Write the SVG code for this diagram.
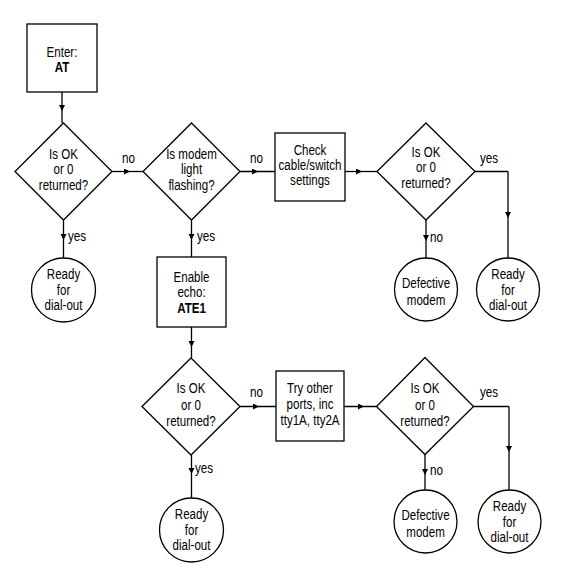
<svg xmlns="http://www.w3.org/2000/svg" width="561" height="577" viewBox="0 0 561 577">
<style>
.s{fill:#fff;stroke:#000;stroke-width:1.3}
.c{fill:none;stroke:#000;stroke-width:1.3;marker-mid:url(#ah)}
.p{fill:none;stroke:#000;stroke-width:1.3}
text{font-family:"Liberation Sans",Arial,sans-serif;font-size:15px;fill:#000;text-anchor:middle}
.b{font-weight:bold}
.l{text-anchor:start}
</style>
<defs>
<marker id="ah" markerUnits="userSpaceOnUse" markerWidth="7" markerHeight="7" refX="6" refY="3" orient="auto">
<path d="M0,0 L6,3 L0,6 z" fill="#000"/>
</marker>
</defs>
<rect width="561" height="577" fill="#fff"/>
<g id="connectors">
<path class="c" d="M62,92 L62,111 L62,123"/>
<path class="c" d="M63.5,220 L63.5,240 L63.5,258"/>
<path class="c" d="M112,171.5 L130,171.5 L143,171.5"/>
<path class="c" d="M191.5,220 L191.5,240 L191.5,257"/>
<path class="c" d="M240,171.5 L258,171.5 L275,171.5"/>
<path class="c" d="M345,171.5 L362,171.5 L377,171.5"/>
<path class="c" d="M426,220 L426,241 L426,258"/>
<path class="p" d="M475,171.5 L508,171.5"/>
<path class="c" d="M508,171.5 L508,218 L508,258"/>
<path class="c" d="M191.5,327 L191.5,347 L191.5,358"/>
<path class="c" d="M240,406.5 L259,406.5 L276,406.5"/>
<path class="c" d="M344,406.5 L364,406.5 L376.5,406.5"/>
<path class="c" d="M425,454.5 L425,475 L425,490"/>
<path class="p" d="M473.5,406.5 L509,406.5"/>
<path class="c" d="M509,406.5 L509,452 L509,490"/>
<path class="c" d="M191.5,455 L191.5,474 L191.5,498"/>
</g>
<g id="labels">
<text class="l" transform="translate(122 163) scale(0.78 1)">no</text>
<text class="l" transform="translate(250 163) scale(0.78 1)">no</text>
<text class="l" transform="translate(68 241) scale(0.78 1)">yes</text>
<text class="l" transform="translate(197 241) scale(0.78 1)">yes</text>
<text class="l" transform="translate(480 163) scale(0.78 1)">yes</text>
<text class="l" transform="translate(430 242) scale(0.78 1)">no</text>
<text class="l" transform="translate(250 397) scale(0.78 1)">no</text>
<text class="l" transform="translate(195 473) scale(0.78 1)">yes</text>
<text class="l" transform="translate(480 397) scale(0.78 1)">yes</text>
<text class="l" transform="translate(430 475) scale(0.78 1)">no</text>
</g>
<g id="enter">
<rect class="s" x="27" y="24" width="70" height="68"/>
<g transform="translate(62 0) scale(0.77 1)">
<text x="0" y="57">Enter:</text>
<text class="b" x="0" y="72">AT</text>
</g>
</g>
<g id="d1">
<polygon class="s" points="63.5,123 112,171.5 63.5,220 15,171.5"/>
<g transform="translate(63.5 0) scale(0.77 1)">
<text x="0" y="159">Is OK</text>
<text x="0" y="174.5">or 0</text>
<text x="0" y="190">returned?</text>
</g>
</g>
<g id="d2">
<polygon class="s" points="191.5,123 240,171.5 191.5,220 143,171.5"/>
<g transform="translate(191.5 0) scale(0.77 1)">
<text x="0" y="159">Is modem</text>
<text x="0" y="174.5">light</text>
<text x="0" y="190">flashing?</text>
</g>
</g>
<g id="check">
<rect class="s" x="275" y="133" width="70" height="68"/>
<g transform="translate(310 0) scale(0.77 1)">
<text x="0" y="155">Check</text>
<text x="0" y="170">cable/switch</text>
<text x="0" y="185">settings</text>
</g>
</g>
<g id="d3">
<polygon class="s" points="426,123 475,171.5 426,220 377,171.5"/>
<g transform="translate(426 0) scale(0.77 1)">
<text x="0" y="157">Is OK</text>
<text x="0" y="172.5">or 0</text>
<text x="0" y="188.5">returned?</text>
</g>
</g>
<g id="ready1">
<circle class="s" cx="63.5" cy="290" r="32"/>
<g transform="translate(63.5 0) scale(0.77 1)">
<text x="0" y="279">Ready</text>
<text x="0" y="295">for</text>
<text x="0" y="310">dial-out</text>
</g>
</g>
<g id="enable">
<rect class="s" x="157" y="257" width="69" height="70"/>
<g transform="translate(191.5 0) scale(0.77 1)">
<text x="0" y="282">Enable</text>
<text x="0" y="297">echo:</text>
<text class="b" x="0" y="313">ATE1</text>
</g>
</g>
<g id="defective1">
<circle class="s" cx="426" cy="289.5" r="31.5"/>
<g transform="translate(426 0) scale(0.77 1)">
<text x="0" y="288.5">Defective</text>
<text x="0" y="305">modem</text>
</g>
</g>
<g id="ready2">
<circle class="s" cx="508" cy="289.5" r="31.5"/>
<g transform="translate(508 0) scale(0.77 1)">
<text x="0" y="279">Ready</text>
<text x="0" y="295">for</text>
<text x="0" y="310">dial-out</text>
</g>
</g>
<g id="d4">
<polygon class="s" points="191,358 240,406.5 191,455 142,406.5"/>
<g transform="translate(191 0) scale(0.77 1)">
<text x="0" y="393">Is OK</text>
<text x="0" y="410">or 0</text>
<text x="0" y="426">returned?</text>
</g>
</g>
<g id="try">
<rect class="s" x="276" y="371" width="68" height="70"/>
<g transform="translate(310 0) scale(0.77 1)">
<text x="0" y="393">Try other</text>
<text x="0" y="409">ports, inc</text>
<text x="0" y="425">tty1A, tty2A</text>
</g>
</g>
<g id="d5">
<polygon class="s" points="425,357.5 473.5,406.5 425,454.5 376.5,406.5"/>
<g transform="translate(425 0) scale(0.77 1)">
<text x="0" y="393">Is OK</text>
<text x="0" y="410">or 0</text>
<text x="0" y="426">returned?</text>
</g>
</g>
<g id="ready3">
<circle class="s" cx="191.5" cy="530" r="32"/>
<g transform="translate(191.5 0) scale(0.77 1)">
<text x="0" y="519">Ready</text>
<text x="0" y="535">for</text>
<text x="0" y="550">dial-out</text>
</g>
</g>
<g id="defective2">
<circle class="s" cx="425.5" cy="521.5" r="31.5"/>
<g transform="translate(425.5 0) scale(0.77 1)">
<text x="0" y="520.5">Defective</text>
<text x="0" y="537">modem</text>
</g>
</g>
<g id="ready4">
<circle class="s" cx="509.5" cy="521.5" r="31.5"/>
<g transform="translate(509.5 0) scale(0.77 1)">
<text x="0" y="511">Ready</text>
<text x="0" y="527">for</text>
<text x="0" y="542">dial-out</text>
</g>
</g>
</svg>
